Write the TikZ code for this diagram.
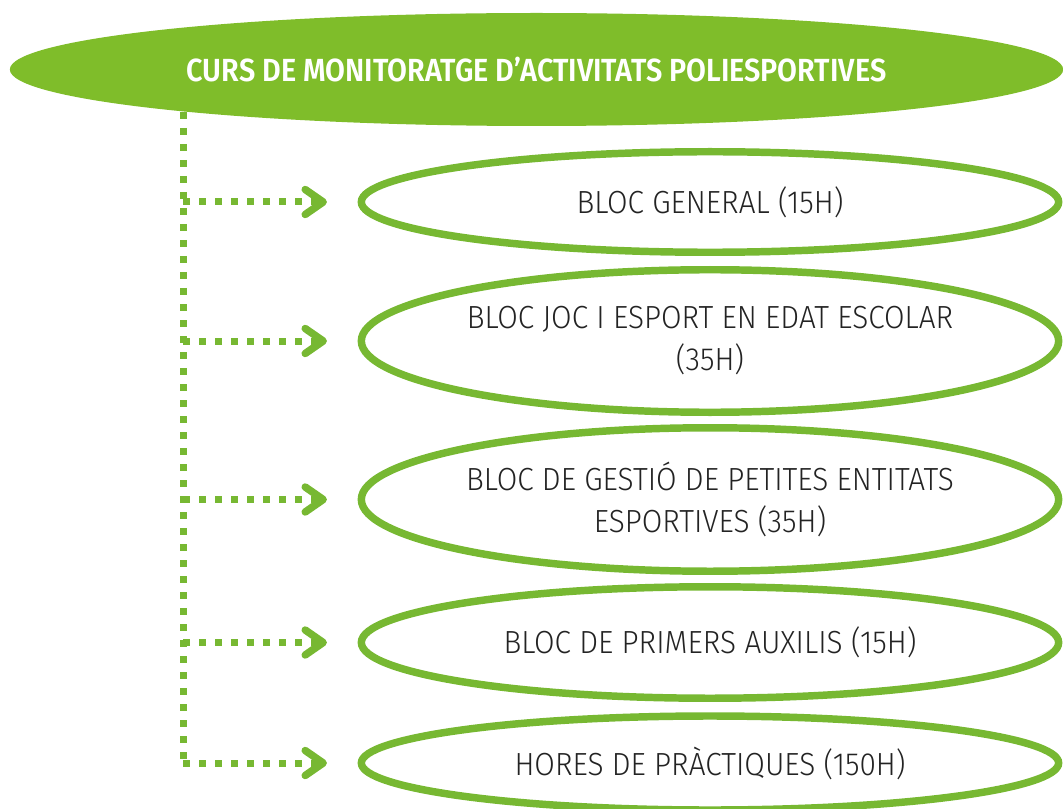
\documentclass[tikz,border=0pt]{standalone}
\usepackage{fontspec}
\setmainfont{Fira Sans Light}[BoldFont=Fira Sans SemiBold, FakeStretch=0.93,
  BoldFeatures={FakeStretch=0.9}]
\usetikzlibrary{shapes.geometric,arrows.meta}
\definecolor{verd}{RGB}{127,189,42}
\definecolor{verdline}{RGB}{119,184,50}
\definecolor{tinta}{RGB}{35,35,35}
\tikzset{
  curs/.style={ellipse,fill=verd,inner sep=0pt,minimum width=790pt,minimum height=84.75pt,
    text=white,font=\bfseries\fontsize{24}{28}\selectfont},
  bloc/.style={ellipse,draw=verdline,line width=5.6pt,inner sep=0pt,minimum width=523pt,
    text=tinta,align=center,font=\fontsize{24}{31.5}\selectfont},
  puntets/.style={verdline,line width=5.25pt,dash pattern=on 4.9pt off 7.1pt},
  fletxa/.style={puntets,-{Straight Barb[length=13.5pt,width=18.75pt,line width=5.6pt,round]},
    shorten >=23pt}
}
\begin{document}
\begin{tikzpicture}[x=0.75pt,y=-0.75pt]
  \useasboundingbox (0,0) rectangle (1063,809);
  % titol
  \node[curs] (curs) at (536.5,69.5) {CURS DE MONITORATGE D’ACTIVITATS POLIESPORTIVES};
  % blocs
  \node[bloc,minimum height=75.4pt] (b1) at (710,202) {BLOC GENERAL (15H)};
  \node[bloc,minimum height=106.9pt] (b2) at (710,341) {BLOC JOC I ESPORT EN EDAT ESCOLAR\\(35H)};
  \node[bloc,minimum height=107.6pt] (b3) at (710,499.5) {BLOC DE GESTIÓ DE PETITES ENTITATS\\ESPORTIVES (35H)};
  \node[bloc,minimum height=83.6pt] (b4) at (710,642.5) {BLOC DE PRIMERS AUXILIS (15H)};
  \node[bloc,minimum height=70.5pt] (b5) at (710,763) {HORES DE PRÀCTIQUES (150H)};
  % connectors
  \coordinate (spine) at (183,112);
  \draw[puntets] (spine) -- (spine |- b5);
  \foreach \b in {b1,b2,b3,b4,b5}{%
    \draw[fletxa] (spine |- \b) -- (\b.west);
  }
\end{tikzpicture}
\end{document}
